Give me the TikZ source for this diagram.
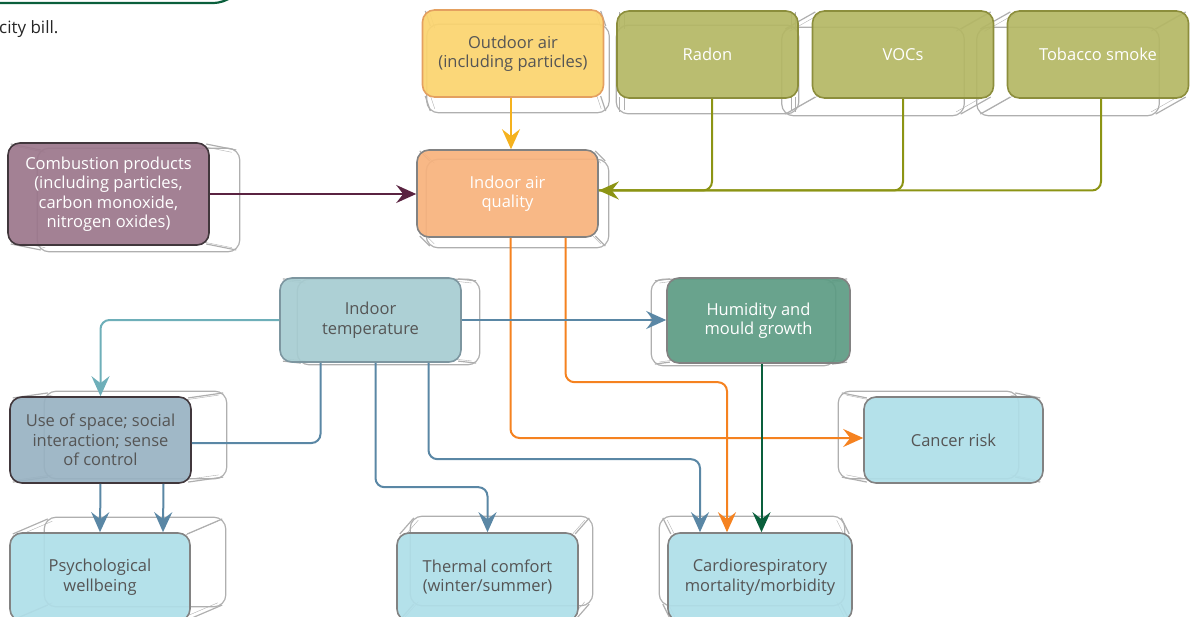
\documentclass[tikz,border=0pt]{standalone}
\usepackage{fontspec}
\setmainfont{Open Sans}
\usetikzlibrary{arrows.meta,backgrounds,calc}
\definecolor{figY}{RGB}{251,212,110}
\definecolor{figYd}{RGB}{228,160,96}
\definecolor{figYa}{RGB}{245,178,30}
\definecolor{figO}{RGB}{180,183,100}
\definecolor{figOd}{RGB}{140,142,60}
\definecolor{figOa}{RGB}{140,148,20}
\definecolor{figP}{RGB}{155,118,139}
\definecolor{figPd}{RGB}{65,55,60}
\definecolor{figPa}{RGB}{90,35,65}
\definecolor{figA}{RGB}{247,178,124}
\definecolor{figC}{RGB}{166,204,209}
\definecolor{figCd}{RGB}{125,150,160}
\definecolor{figH}{RGB}{92,155,131}
\definecolor{figU}{RGB}{152,178,194}
\definecolor{figL}{RGB}{174,222,232}
\definecolor{figGr}{RGB}{130,130,130}
\definecolor{figTxt}{RGB}{85,85,85}
\definecolor{figOr}{RGB}{245,130,32}
\definecolor{figBa}{RGB}{90,135,165}
\definecolor{figTa}{RGB}{110,175,185}
\definecolor{figGa}{RGB}{10,95,60}
\definecolor{figGhost}{RGB}{175,175,175}
% back face of a box: node, shift x, shift y
\newcommand{\backface}[3]{%
  \begin{scope}[on background layer]
    \draw[ghost] ([shift={(#2,#3)}]#1.south west) rectangle ([shift={(#2,#3)}]#1.north east);
    \foreach \c in {north west,north east,south west,south east}{
      \draw[ghost,rounded corners=0pt] ($(#1.\c)!4pt!(#1.center)$) -- ($([shift={(#2,#3)}]#1.\c)!4pt!([shift={(#2,#3)}]#1.center)$);
      \draw[ghost,thin,rounded corners=0pt] ($(#1.\c)!9pt!(#1.center)$) -- ($([shift={(#2,#3)}]#1.\c)!9pt!([shift={(#2,#3)}]#1.center)$);}
  \end{scope}}

\begin{document}
\begin{tikzpicture}[x=1pt,y=-1pt,>={Stealth[length=20pt,width=18pt,inset=7pt]},
  box/.style 2 args={draw=#2,line width=1.6pt,fill=#1,fill opacity=0.92,text opacity=1,
    rounded corners=12pt,minimum width=181pt,minimum height=87pt,inner sep=2pt,
    align=center,font=\fontsize{16.5}{19.5}\selectfont},
  ghost/.style={draw=figGhost,line width=1.2pt,rounded corners=12pt},
  link/.style={line width=2pt,rounded corners=9pt}]
\useasboundingbox (0,0) rectangle (1198,617);
% tail of the panel above
\draw[figGa,line width=2.2pt] (0,3) -- (212,3) to[out=0,in=210] (234,-4);
\node[anchor=west,inner sep=0pt,font=\fontsize{17}{19}\selectfont,text=black!85] (citybill) at (-1,29) {city bill.};
% sources
\node[box={figY}{figYd},text=figTxt] (outdoor) at (513,53.5) {Outdoor air\\(including particles)};
\node[box={figO}{figOd},text=white] (radon) at (707.5,54.5) {Radon};
\node[box={figO}{figOd},text=white] (vocs) at (903,54.5) {VOCs};
\node[box={figO}{figOd},text=white] (tobacco) at (1098,54.5) {Tobacco smoke};
\node[box={figP}{figPd},text=white,minimum width=201pt,minimum height=102pt] (comb) at (108.5,194)
  {Combustion products\\(including particles,\\carbon monoxide,\\nitrogen oxides)};
\node[box={figA}{figGr},text=white] (iaq) at (507.5,193.5) {Indoor air\\quality};
% housing conditions
\node[box={figC}{figCd},text=figTxt,minimum height=84pt] (temp) at (370.5,320) {Indoor\\temperature};
\node[box={figH}{figGr},text=white,minimum width=183pt,minimum height=85pt] (hum) at (758.5,320.5) {Humidity and\\mould growth};
\node[box={figU}{figPd},text=figTxt,minimum height=86pt] (use) at (100.5,440) {Use of space; social\\interaction; sense\\of control};
% outcomes
\node[box={figL}{figGr},text=figTxt,minimum width=179pt,minimum height=86pt] (cancer) at (953.5,440) {Cancer risk};
\node[box={figL}{figGr},text=figTxt,minimum width=180pt,minimum height=88pt] (psych) at (100,577) {Psychological\\wellbeing};
\node[box={figL}{figGr},text=figTxt,minimum height=88pt] (thermal) at (487.5,577) {Thermal comfort\\(winter/summer)};
\node[box={figL}{figGr},text=figTxt,minimum width=184pt,minimum height=88pt] (cardio) at (760,577) {Cardiorespiratory\\mortality/morbidity};
% back faces
\backface{outdoor}{5}{15}
\backface{radon}{0}{15}
\backface{vocs}{-30}{17}
\backface{tobacco}{-30}{17}
\backface{comb}{30}{6}
\backface{iaq}{10}{10}
\backface{temp}{18}{2}
\backface{hum}{-15}{2}
\backface{use}{35}{-5}
\backface{cancer}{-25}{-5}
\backface{psych}{35}{-15}
\backface{thermal}{14}{-16}
\backface{cardio}{-8}{-16}
% into indoor air quality
\draw[link,figYa,->] ([xshift=-2pt]outdoor.south) -- ([xshift=-2pt]outdoor.south |- iaq.north);
\draw[link,figOa,->] ([xshift=3pt]tobacco.south) |- ([yshift=3pt]iaq.east);
\draw[link,figOa] (vocs.south) |- ([yshift=3pt]iaq.east);
\draw[link,figOa] ([xshift=4.5pt]radon.south) |- ([yshift=3pt]iaq.east);
\draw[link,figPa,->] (comb.east) -- (comb.east -| iaq.west);
% out of indoor air quality
\draw[link,figOr,->] ([xshift=3pt]iaq.south) |- ([yshift=2pt]cancer.west);
\draw[link,figOr,->] ([xshift=58pt]iaq.south) |- ([xshift=-33pt,yshift=150pt]cardio.north) -- ([xshift=-33pt]cardio.north);
% out of indoor temperature
\draw[link,figBa,->] (temp.east) -- (temp.east -| hum.west);
\draw[link,figTa,->] (temp.west) -| (use.north);
\draw[link,figBa] ([xshift=-50pt]temp.south) |- ([yshift=-3pt]use.east);
\draw[link,figBa,->] ([xshift=5pt]temp.south) |- ([yshift=45pt]thermal.north) -- (thermal.north);
\draw[link,figBa,->] ([xshift=58pt]temp.south) |- ([xshift=-60pt,yshift=73pt]cardio.north) -- ([xshift=-60pt]cardio.north);
\draw[link,figBa,->] (use.south) -- (psych.north);
\draw[link,figBa,->] ([xshift=63pt]use.south) -- ([xshift=63pt]psych.north);
\draw[link,figGa,->] ([xshift=3pt]hum.south) -- ([xshift=3pt]hum.south |- cardio.north);
\end{tikzpicture}
\end{document}
